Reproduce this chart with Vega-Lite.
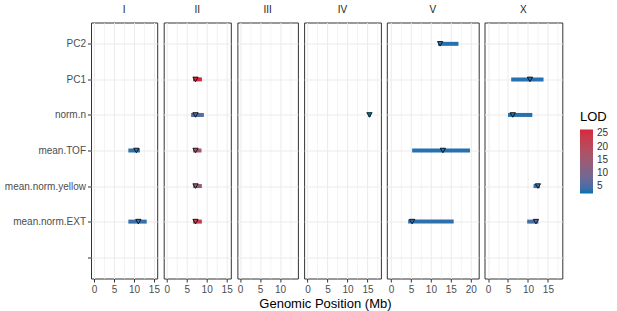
{
  "$schema": "https://vega.github.io/schema/vega-lite/v6.json",
  "padding": {"left": 3, "top": 3.5, "right": 5, "bottom": 2},
  "background": "white",
  "config": {
    "font": "Liberation Sans",
    "view": {"stroke": "#333333", "strokeWidth": 1},
    "axis": {
      "labelFont": "Liberation Sans", "labelFontSize": 10, "labelColor": "#4d4d4d",
      "tickColor": "#333333", "tickSize": 3.5, "tickWidth": 1, "labelPadding": 2,
      "gridColor": "#ebebeb", "gridWidth": 1, "domain": false, "title": null
    },
    "title": {"font": "Liberation Sans", "fontSize": 10, "fontWeight": "normal", "color": "#1a1a1a"},
    "legend": {"titleFont": "Liberation Sans", "labelFont": "Liberation Sans"}
  },
  "title": {"text": "Genomic Position (Mb)", "orient": "bottom", "anchor": "middle", "fontSize": 13, "color": "#000000", "offset": 3, "dx": 19},
  "data": {"values": [
    {"trait": "mean.TOF", "chr": "I", "ci_l": 8.6, "ci_r": 11.5, "peak": 10.6, "lod": 3.5},
    {"trait": "mean.norm.EXT", "chr": "I", "ci_l": 8.6, "ci_r": 13.2, "peak": 11.1, "lod": 3.8},
    {"trait": "PC1", "chr": "II", "ci_l": 6.6, "ci_r": 8.8, "peak": 7.2, "lod": 26.5},
    {"trait": "norm.n", "chr": "II", "ci_l": 6.1, "ci_r": 9.3, "peak": 7.2, "lod": 5.5},
    {"trait": "mean.TOF", "chr": "II", "ci_l": 6.6, "ci_r": 8.7, "peak": 7.2, "lod": 16.0},
    {"trait": "mean.norm.yellow", "chr": "II", "ci_l": 6.6, "ci_r": 8.8, "peak": 7.2, "lod": 13.5},
    {"trait": "mean.norm.EXT", "chr": "II", "ci_l": 6.6, "ci_r": 8.8, "peak": 7.2, "lod": 23.0},
    {"trait": "norm.n", "chr": "IV", "ci_l": 15.3, "ci_r": 15.8, "peak": 15.5, "lod": 2.2},
    {"trait": "PC2", "chr": "V", "ci_l": 11.8, "ci_r": 16.9, "peak": 12.3, "lod": 3.0},
    {"trait": "mean.TOF", "chr": "V", "ci_l": 5.3, "ci_r": 19.8, "peak": 13.0, "lod": 3.0},
    {"trait": "mean.norm.EXT", "chr": "V", "ci_l": 4.3, "ci_r": 15.7, "peak": 5.3, "lod": 3.3},
    {"trait": "PC1", "chr": "X", "ci_l": 5.8, "ci_r": 13.9, "peak": 10.5, "lod": 3.0},
    {"trait": "norm.n", "chr": "X", "ci_l": 5.0, "ci_r": 11.1, "peak": 6.2, "lod": 3.0},
    {"trait": "mean.norm.yellow", "chr": "X", "ci_l": 11.4, "ci_r": 13.0, "peak": 12.5, "lod": 3.8},
    {"trait": "mean.norm.EXT", "chr": "X", "ci_l": 9.8, "ci_r": 12.6, "peak": 12.0, "lod": 4.8}
  ]},
  "bounds": "flush",
  "spacing": 5.7,
  "hconcat": [
    {
      "width": 66.2, "height": 256,
      "title": {"text": "I", "baseline": "alphabetic", "offset": 0},
      "transform": [{"filter": "datum.chr === 'I'"}],
      "resolve": {"axis": {"x": "independent"}},
      "layer": [
        {"mark": {"type": "rule", "strokeWidth": 4, "strokeCap": "butt"},
         "encoding": {
           "x": {"field": "ci_l", "type": "quantitative", "scale": {"domain": [-0.754, 15.826], "nice": false, "zero": false}, "axis": {"values": [0, 5, 10, 15], "grid": true}},
           "x2": {"field": "ci_r"},
           "y": {"field": "trait", "type": "nominal", "scale": {"type": "point", "padding": 0.6, "domain": ["PC2", "PC1", "norm.n", "mean.TOF", "mean.norm.yellow", "mean.norm.EXT", " "]}, "axis": {"grid": true, "title": null}},
           "color": {"field": "lod", "type": "quantitative", "scale": {"type": "linear", "domain": [2.2, 26.5], "range": ["#0072B2", "#D7263D"], "interpolate": "lab", "nice": false, "zero": false},
             "legend": {"title": "LOD", "orient": "none", "legendX": 489, "legendY": 88, "values": [5, 10, 15, 20, 25], "gradientLength": 64, "gradientThickness": 13, "titleFontSize": 13, "titleFontWeight": "normal", "titleColor": "#000000", "titlePadding": 6, "labelFontSize": 10, "labelColor": "#333333", "labelOffset": 4, "gradientStrokeWidth": 0, "direction": "vertical"}}
         }},
        {"mark": {"type": "point", "shape": "triangle-down", "filled": true, "stroke": "#000000", "strokeWidth": 0.8, "size": 28, "opacity": 1},
         "encoding": {
           "x": {"field": "peak", "type": "quantitative", "axis": {"values": [2.5, 7.5, 12.5], "grid": true, "gridWidth": 0.6, "labels": false, "ticks": false, "orient": "bottom"}},
           "y": {"field": "trait", "type": "nominal"},
           "fill": {"field": "lod", "type": "quantitative", "scale": {"type": "linear", "range": ["#0072B2", "#D7263D"], "interpolate": "lab", "nice": false, "zero": false}, "legend": null}
         }}
      ]
    },
    {
      "width": 67.1, "height": 256,
      "title": {"text": "II", "baseline": "alphabetic", "offset": 0},
      "transform": [{"filter": "datum.chr === 'II'"}],
      "resolve": {"axis": {"x": "independent"}},
      "layer": [
        {"mark": {"type": "rule", "strokeWidth": 4, "strokeCap": "butt"},
         "encoding": {
           "x": {"field": "ci_l", "type": "quantitative", "scale": {"domain": [-0.764, 16.043], "nice": false, "zero": false}, "axis": {"values": [0, 5, 10, 15], "grid": true}},
           "x2": {"field": "ci_r"},
           "y": {"field": "trait", "type": "nominal", "scale": {"type": "point", "padding": 0.6, "domain": ["PC2", "PC1", "norm.n", "mean.TOF", "mean.norm.yellow", "mean.norm.EXT", " "]}, "axis": {"grid": true, "labels": false, "ticks": false, "title": null}},
           "color": {"field": "lod", "type": "quantitative"}
         }},
        {"mark": {"type": "point", "shape": "triangle-down", "filled": true, "stroke": "#000000", "strokeWidth": 0.8, "size": 28, "opacity": 1},
         "encoding": {
           "x": {"field": "peak", "type": "quantitative", "axis": {"values": [2.5, 7.5, 12.5], "grid": true, "gridWidth": 0.6, "labels": false, "ticks": false, "orient": "bottom"}},
           "y": {"field": "trait", "type": "nominal"},
           "fill": {"field": "lod", "type": "quantitative", "legend": null}
         }}
      ]
    },
    {
      "width": 60.5, "height": 256,
      "title": {"text": "III", "baseline": "alphabetic", "offset": 0},
      "transform": [{"filter": "datum.chr === 'III'"}],
      "resolve": {"axis": {"x": "independent"}},
      "layer": [
        {"mark": {"type": "rule", "strokeWidth": 4, "strokeCap": "butt"},
         "encoding": {
           "x": {"field": "ci_l", "type": "quantitative", "scale": {"domain": [-0.689, 14.473], "nice": false, "zero": false}, "axis": {"values": [0, 5, 10], "grid": true}},
           "x2": {"field": "ci_r"},
           "y": {"field": "trait", "type": "nominal", "scale": {"type": "point", "padding": 0.6, "domain": ["PC2", "PC1", "norm.n", "mean.TOF", "mean.norm.yellow", "mean.norm.EXT", " "]}, "axis": {"grid": true, "labels": false, "ticks": false, "title": null}},
           "color": {"field": "lod", "type": "quantitative"}
         }},
        {"mark": {"type": "point", "shape": "triangle-down", "filled": true, "stroke": "#000000", "strokeWidth": 0.8, "size": 28, "opacity": 1},
         "encoding": {
           "x": {"field": "peak", "type": "quantitative", "axis": {"values": [2.5, 7.5, 12.5], "grid": true, "gridWidth": 0.6, "labels": false, "ticks": false, "orient": "bottom"}},
           "y": {"field": "trait", "type": "nominal"},
           "fill": {"field": "lod", "type": "quantitative", "legend": null}
         }}
      ]
    },
    {
      "width": 76.8, "height": 256,
      "title": {"text": "IV", "baseline": "alphabetic", "offset": 0},
      "transform": [{"filter": "datum.chr === 'IV'"}],
      "resolve": {"axis": {"x": "independent"}},
      "layer": [
        {"mark": {"type": "rule", "strokeWidth": 4, "strokeCap": "butt"},
         "encoding": {
           "x": {"field": "ci_l", "type": "quantitative", "scale": {"domain": [-0.875, 18.369], "nice": false, "zero": false}, "axis": {"values": [0, 5, 10, 15], "grid": true}},
           "x2": {"field": "ci_r"},
           "y": {"field": "trait", "type": "nominal", "scale": {"type": "point", "padding": 0.6, "domain": ["PC2", "PC1", "norm.n", "mean.TOF", "mean.norm.yellow", "mean.norm.EXT", " "]}, "axis": {"grid": true, "labels": false, "ticks": false, "title": null}},
           "color": {"field": "lod", "type": "quantitative"}
         }},
        {"mark": {"type": "point", "shape": "triangle-down", "filled": true, "stroke": "#000000", "strokeWidth": 0.8, "size": 28, "opacity": 1},
         "encoding": {
           "x": {"field": "peak", "type": "quantitative", "axis": {"values": [2.5, 7.5, 12.5, 17.5], "grid": true, "gridWidth": 0.6, "labels": false, "ticks": false, "orient": "bottom"}},
           "y": {"field": "trait", "type": "nominal"},
           "fill": {"field": "lod", "type": "quantitative", "legend": null}
         }}
      ]
    },
    {
      "width": 91.9, "height": 256,
      "title": {"text": "V", "baseline": "alphabetic", "offset": 0},
      "transform": [{"filter": "datum.chr === 'V'"}],
      "resolve": {"axis": {"x": "independent"}},
      "layer": [
        {"mark": {"type": "rule", "strokeWidth": 4, "strokeCap": "butt"},
         "encoding": {
           "x": {"field": "ci_l", "type": "quantitative", "scale": {"domain": [-1.046, 21.970], "nice": false, "zero": false}, "axis": {"values": [0, 5, 10, 15, 20], "grid": true}},
           "x2": {"field": "ci_r"},
           "y": {"field": "trait", "type": "nominal", "scale": {"type": "point", "padding": 0.6, "domain": ["PC2", "PC1", "norm.n", "mean.TOF", "mean.norm.yellow", "mean.norm.EXT", " "]}, "axis": {"grid": true, "labels": false, "ticks": false, "title": null}},
           "color": {"field": "lod", "type": "quantitative"}
         }},
        {"mark": {"type": "point", "shape": "triangle-down", "filled": true, "stroke": "#000000", "strokeWidth": 0.8, "size": 28, "opacity": 1},
         "encoding": {
           "x": {"field": "peak", "type": "quantitative", "axis": {"values": [2.5, 7.5, 12.5, 17.5], "grid": true, "gridWidth": 0.6, "labels": false, "ticks": false, "orient": "bottom"}},
           "y": {"field": "trait", "type": "nominal"},
           "fill": {"field": "lod", "type": "quantitative", "legend": null}
         }}
      ]
    },
    {
      "width": 77.8, "height": 256,
      "title": {"text": "X", "baseline": "alphabetic", "offset": 0},
      "transform": [{"filter": "datum.chr === 'X'"}],
      "resolve": {"axis": {"x": "independent"}},
      "layer": [
        {"mark": {"type": "rule", "strokeWidth": 4, "strokeCap": "butt"},
         "encoding": {
           "x": {"field": "ci_l", "type": "quantitative", "scale": {"domain": [-0.886, 18.605], "nice": false, "zero": false}, "axis": {"values": [0, 5, 10, 15], "grid": true}},
           "x2": {"field": "ci_r"},
           "y": {"field": "trait", "type": "nominal", "scale": {"type": "point", "padding": 0.6, "domain": ["PC2", "PC1", "norm.n", "mean.TOF", "mean.norm.yellow", "mean.norm.EXT", " "]}, "axis": {"grid": true, "labels": false, "ticks": false, "title": null}},
           "color": {"field": "lod", "type": "quantitative"}
         }},
        {"mark": {"type": "point", "shape": "triangle-down", "filled": true, "stroke": "#000000", "strokeWidth": 0.8, "size": 28, "opacity": 1},
         "encoding": {
           "x": {"field": "peak", "type": "quantitative", "axis": {"values": [2.5, 7.5, 12.5, 17.5], "grid": true, "gridWidth": 0.6, "labels": false, "ticks": false, "orient": "bottom"}},
           "y": {"field": "trait", "type": "nominal"},
           "fill": {"field": "lod", "type": "quantitative", "legend": null}
         }}
      ]
    }
  ]
}
